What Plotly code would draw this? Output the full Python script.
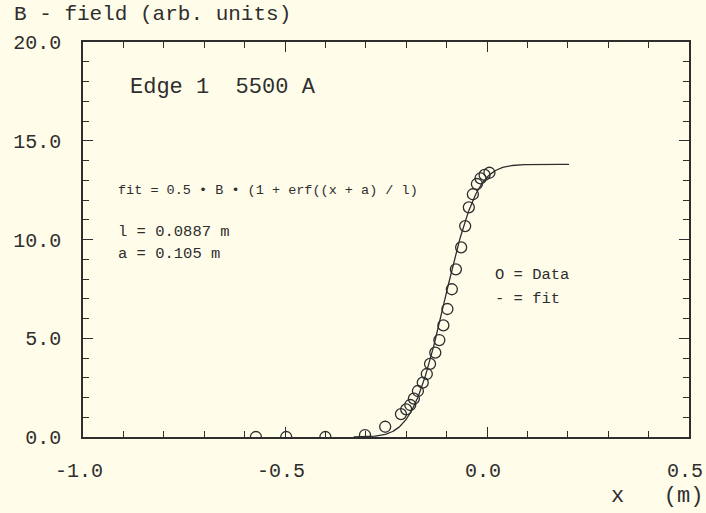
import numpy as np
import plotly.graph_objects as go
from math import erf

# Measured field along the magnet edge
x_data = [-0.572, -0.497, -0.400, -0.302, -0.252, -0.213, -0.200, -0.190, -0.181,
          -0.171, -0.159, -0.149, -0.141, -0.128, -0.118, -0.108, -0.098, -0.087,
          -0.077, -0.064, -0.054, -0.045, -0.035, -0.025, -0.016, -0.006, 0.006]
b_data = [0.0, 0.0, 0.0, 0.10, 0.52, 1.16, 1.40, 1.62, 1.94,
          2.33, 2.75, 3.19, 3.70, 4.27, 4.91, 5.65, 6.48, 7.48,
          8.49, 9.60, 10.68, 11.63, 12.29, 12.81, 13.10, 13.27, 13.38]

# Fit parameters: fit = 0.5 * B * (1 + erf((x + a) / l))
B_fit = 13.8
l_fit = 0.0887
a_fit = 0.105
x_fit = np.linspace(-0.33, 0.203, 300)
b_fit = [0.5 * B_fit * (1 + erf((xv + a_fit) / l_fit)) for xv in x_fit]

x_tick_vals = [-1.0, -0.5, 0.0, 0.5]
x_tick_text = ["-1.0", "-0.5", "0.0", "0.5"]
y_tick_vals = [0, 5, 10, 15, 20]
y_tick_text = ["0.0", "5.0", "10.0", "15.0", "20.0"]

ink = "#2e2e2e"
paper = "#fffdea"
font_main = "Liberation Mono"

fig = go.Figure()
fig.add_trace(go.Scatter(
    x=x_fit, y=b_fit, mode="lines",
    line=dict(color=ink, width=1.3), showlegend=False, hoverinfo="skip"))
fig.add_trace(go.Scatter(
    x=x_data, y=b_data, mode="markers",
    marker=dict(symbol="circle-open", size=11, color=ink, line=dict(width=1.3)),
    showlegend=False))

axis_common = dict(
    showgrid=False, zeroline=False, showline=True, linecolor=ink, linewidth=1.5,
    mirror="allticks", ticks="inside", ticklen=10, tickwidth=1.3, tickcolor=ink,
    tickfont=dict(family=font_main, size=20, color=ink),
    ticklabeloverflow="allow", automargin=False,
)

fig.update_xaxes(
    range=[-1.0, 0.5], tickvals=x_tick_vals, ticktext=x_tick_text,
    minor=dict(dtick=0.1, tick0=0, ticks="inside", ticklen=6, tickwidth=1.2, tickcolor=ink),
    ticklabelstandoff=14, ticklabelshift=-4, **axis_common)
fig.update_yaxes(
    range=[0, 20], tickvals=y_tick_vals, ticktext=y_tick_text,
    minor=dict(dtick=1, tick0=0, ticks="inside", ticklen=6, tickwidth=1.2, tickcolor=ink),
    ticklabelstandoff=16, **axis_common)

ann = []
def text(x, y, s, size, xanchor="left", yanchor="middle"):
    ann.append(dict(x=x, y=y, text=s, showarrow=False,
                    xanchor=xanchor, yanchor=yanchor,
                    font=dict(family=font_main, size=size, color=ink)))

# positions given in pixels from the bottom-left corner of the page
text(12, 499, "B - field (arb. units)", 21)
text(128, 425, "Edge 1  5500 A", 22)
text(116, 323, "fit = 0.5 \u2022 B \u2022 (1 + erf((x + a) / l)", 13.5)
text(116, 281, "l = 0.0887 m", 15.5)
text(116, 259, "a = 0.105 m", 15.5)
text(493, 238, "O = Data", 15.5)
text(493, 214, "- = fit", 15.5)
text(705, 16, "x\u00a0\u00a0\u00a0(m)", 22, xanchor="right")

# convert pixel positions to paper coordinates
L, R, T, Bm = 83, 17, 42, 76
W, H = 706, 513
pw, ph = W - L - R, H - T - Bm
for a in ann:
    a["xref"] = "paper"
    a["yref"] = "paper"
    a["x"] = (a["x"] - L) / pw
    a["y"] = (a["y"] - Bm) / ph

fig.update_layout(
    width=W, height=H,
    margin=dict(l=L, r=R, t=T, b=Bm, autoexpand=False),
    paper_bgcolor=paper, plot_bgcolor=paper,
    annotations=ann,
)

fig.write_html("out.html")
